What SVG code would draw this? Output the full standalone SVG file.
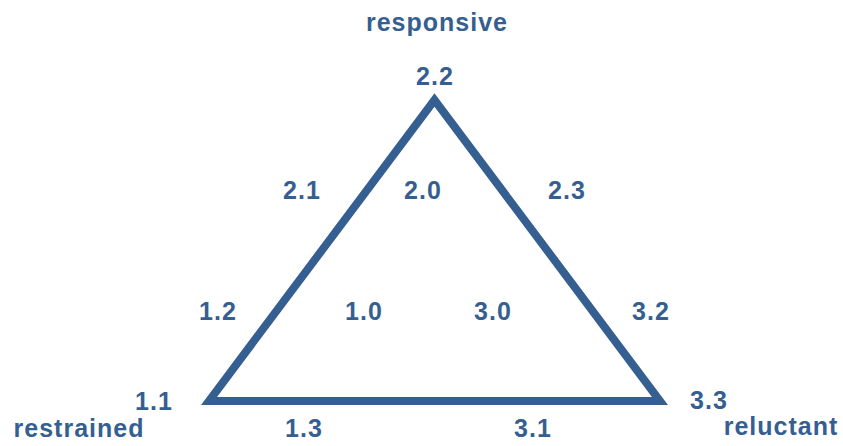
<svg xmlns="http://www.w3.org/2000/svg" width="843" height="446" viewBox="0 0 843 446">
<style>
text{font-family:"Liberation Sans",Arial,sans-serif;font-weight:bold;font-size:25px;letter-spacing:1px;fill:#365f91;text-anchor:middle}
.tri{fill:none;stroke:#365f91;stroke-width:8;stroke-linejoin:miter}
</style>
<rect width="843" height="446" fill="#ffffff"/>
<g id="connectors">
<polygon class="tri" points="434.5,100 209,401 660,401"/>
</g>
<g id="vertex-top"><text x="437" y="31">responsive</text><text x="435" y="85">2.2</text></g>
<g id="vertex-left"><text x="154" y="410">1.1</text><text x="79" y="437">restrained</text></g>
<g id="vertex-right"><text x="709" y="409">3.3</text><text x="781" y="435">reluctant</text></g>
<g id="label-2-1"><text x="302" y="199">2.1</text></g>
<g id="label-2-0"><text x="423" y="199">2.0</text></g>
<g id="label-2-3"><text x="567" y="199">2.3</text></g>
<g id="label-1-2"><text x="218" y="320">1.2</text></g>
<g id="label-1-0"><text x="364" y="320">1.0</text></g>
<g id="label-3-0"><text x="493" y="320">3.0</text></g>
<g id="label-3-2"><text x="651" y="320">3.2</text></g>
<g id="label-1-3"><text x="304" y="437">1.3</text></g>
<g id="label-3-1"><text x="533" y="437">3.1</text></g>
</svg>
